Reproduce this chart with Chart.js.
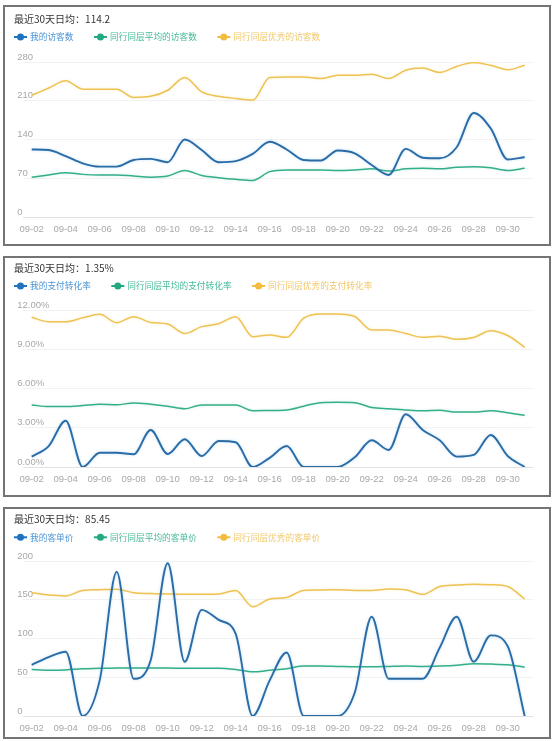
<!DOCTYPE html>
<html>
<head>
<meta charset="utf-8">
<script src="https://cdn.jsdelivr.net/npm/chart.js@4/dist/chart.umd.min.js"></script>
<style>
  html, body { margin: 0; padding: 0; background: #fff; }
  body { width: 554px; height: 741px; position: relative; overflow: hidden; }
  .panel { position: absolute; left: 3px; width: 548px; box-sizing: border-box; border: 2px solid #747474; }
  .wrap { position: absolute; left: 0; width: 554px; }
  canvas { display: block; }
</style>
</head>
<body>
<div class="panel" style="top:5px;height:241px"></div>
<div class="panel" style="top:256px;height:241px"></div>
<div class="panel" style="top:507px;height:232px"></div>
<div class="wrap" style="top:0"><canvas id="c1" width="554" height="250"></canvas></div>
<div class="wrap" style="top:250px"><canvas id="c2" width="554" height="250"></canvas></div>
<div class="wrap" style="top:500px"><canvas id="c3" width="554" height="241"></canvas></div>
<script>
// categories: last 30 days
const days = ['09-02','09-03','09-04','09-05','09-06','09-07','09-08','09-09','09-10','09-11',
              '09-12','09-13','09-14','09-15','09-16','09-17','09-18','09-19','09-20','09-21',
              '09-22','09-23','09-24','09-25','09-26','09-27','09-28','09-29','09-30','10-01'];
const tickLabels = ['09-02','09-04','09-06','09-08','09-10','09-12','09-14','09-16',
                    '09-18','09-20','09-22','09-24','09-26','09-28','09-30'];

// 访客数
const myVisitors  = [122,121,110,97,91,91,103,105,99,140,121,99,101,114,136,122,103,102,120,115,94,76,123,107,106,126,188,160,104,108];
const avgVisitors = [72,76,80,77,76,76,74,72,74,84,75,71,68,66,82,85,85,85,84,85,87,83,87,88,87,90,91,89,84,88];
const topVisitors = [220,233,246,231,231,231,216,218,229,252,226,218,214,211,252,253,253,250,256,256,258,250,265,269,261,272,279,274,266,274];

// 支付转化率 (%)
const myConv  = [0.79,1.6,3.54,0,1.09,1.09,0.97,2.83,0.99,2.12,0.84,1.99,1.89,0,0.7,1.6,0,0,0,0.74,2.04,1.3,4.03,2.83,2.04,0.79,0.92,2.45,0.84,0];
const avgConv = [4.74,4.62,4.62,4.7,4.8,4.75,4.9,4.8,4.65,4.45,4.74,4.74,4.74,4.3,4.32,4.36,4.65,4.92,4.94,4.92,4.55,4.45,4.36,4.3,4.33,4.2,4.2,4.3,4.15,3.95];
const topConv = [11.44,11.1,11.1,11.4,11.67,11.03,11.49,11.05,10.93,10.2,10.73,10.95,11.49,9.96,10.09,9.91,11.37,11.7,11.7,11.5,10.47,10.47,10.2,9.91,10.0,9.76,9.9,10.42,10.05,9.15];

// 客单价
const myPrice  = [66,76,83,0,46,186,48,72,197,70,137,124,106,0,46,82,0,0,0,30,128,48,48,48,88,128,70,104,90,0];
const avgPrice = [60,59,59.5,61,61.5,62,62,62,62,61.5,61.5,61.5,60,57,59,61,64.5,64.5,64,63.5,63.5,64,64.5,64,64.5,65.5,67.5,67,66,63];
const topPrice = [159,156,155,162,163,163.5,159,158,157.5,157,157,157.5,162,141,151,153,162,162.5,163,162,162,164,163,157,167,169,170,169.5,167,151];

const lineColors   = ['#2b6ca6', '#35ae8b', '#eec253'];
const glowColors   = ['rgba(90,170,230,0.35)', 'rgba(80,200,160,0.25)', 'rgba(240,200,90,0.3)'];
const legendMarks  = ['#1e73c0', '#22a883', '#f2bd3f'];
const legendText   = ['#4a94d6', '#45b99a', '#f2c868'];
const tickFont = { family: 'Liberation Sans', size: 9.5 };
const tickColor = '#a8a8a8';

// title + echarts-style legend drawn on the canvas
const header = {
    id: 'header',
    afterDraw(chart, args, opts) {
        const ctx = chart.ctx;
        ctx.save();
        ctx.textBaseline = 'middle';
        ctx.textAlign = 'left';
        ctx.font = '10px "Noto Sans CJK SC"';
        ctx.fillStyle = '#333';
        ctx.fillText(opts.title, 14, opts.titleY);

        ctx.font = '8.7px "Noto Sans CJK SC"';
        const y = opts.legendY;
        let x = 14;
        chart.data.datasets.forEach((ds, i) => {
            ctx.strokeStyle = legendMarks[i];
            ctx.fillStyle = legendMarks[i];
            ctx.lineWidth = 2;
            ctx.beginPath(); ctx.moveTo(x, y); ctx.lineTo(x + 13, y); ctx.stroke();
            ctx.beginPath(); ctx.arc(x + 6.5, y, 3.5, 0, Math.PI * 2); ctx.fill();
            ctx.fillStyle = legendText[i];
            ctx.fillText(ds.label, x + 16, y);
            x += 16 + ctx.measureText(ds.label).width + 20.5;
        });
        ctx.restore();
    }
};

// faint halo round each line, like the original
const glow = {
    id: 'glow',
    beforeDatasetDraw(chart, args) {
        chart.ctx.save();
        chart.ctx.shadowColor = glowColors[args.index];
        chart.ctx.shadowBlur = 3;
    },
    afterDatasetDraw(chart) {
        chart.ctx.restore();
    }
};

function makeChart(id, names, series, yOpts, head, pad) {
    return new Chart(document.getElementById(id), {
        type: 'line',
        data: {
            labels: days,
            datasets: series.map((s, i) => ({
                label: names[i],
                data: s,
                borderColor: lineColors[i],
                borderWidth: i === 0 ? 1.9 : 1.5,
                pointRadius: 0,
                cubicInterpolationMode: 'monotone',
                fill: false
            }))
        },
        options: {
            responsive: false,
            animation: false,
            layout: { padding: { top: pad.top, bottom: pad.bottom, left: 0, right: 20.8 } },
            plugins: {
                legend: { display: false },
                tooltip: { enabled: false },
                header: head
            },
            scales: {
                x: {
                    offset: true,
                    grid: { display: false, drawTicks: false, tickLength: 0 },
                    border: { color: '#e2e2e2' },
                    ticks: {
                        autoSkip: false,
                        maxRotation: 0,
                        padding: 7,
                        color: tickColor,
                        font: tickFont,
                        callback: (v, i) => tickLabels.includes(days[i]) ? days[i] : ''
                    },
                    afterFit: s => { s.height = 28; }
                },
                y: {
                    min: yOpts.min,
                    max: yOpts.max,
                    grid: { color: '#f2f2f2', drawTicks: false },
                    border: { display: false },
                    ticks: {
                        stepSize: yOpts.step,
                        mirror: true,
                        padding: -6,
                        labelOffset: -5,
                        color: tickColor,
                        font: tickFont,
                        callback: yOpts.fmt
                    },
                    afterFit: s => { s.width = 23.2; }
                }
            }
        },
        plugins: [header, glow]
    });
}

makeChart('c1',
    ['我的访客数', '同行同层平均的访客数', '同行同层优秀的访客数'],
    [myVisitors, avgVisitors, topVisitors],
    { min: 0, max: 280, step: 70, fmt: v => v },
    { title: '最近30天日均：114.2', titleY: 19.5, legendY: 37 },
    { top: 62, bottom: 5 });

makeChart('c2',
    ['我的支付转化率', '同行同层平均的支付转化率', '同行同层优秀的支付转化率'],
    [myConv, avgConv, topConv],
    { min: 0, max: 12, step: 3, fmt: v => v.toFixed(2) + '%' },
    { title: '最近30天日均：1.35%', titleY: 18.3, legendY: 36 },
    { top: 60, bottom: 5 });

makeChart('c3',
    ['我的客单价', '同行同层平均的客单价', '同行同层优秀的客单价'],
    [myPrice, avgPrice, topPrice],
    { min: 0, max: 200, step: 50, fmt: v => v },
    { title: '最近30天日均：85.45', titleY: 19, legendY: 37.3 },
    { top: 61, bottom: -3 });
</script>
</body>
</html>
